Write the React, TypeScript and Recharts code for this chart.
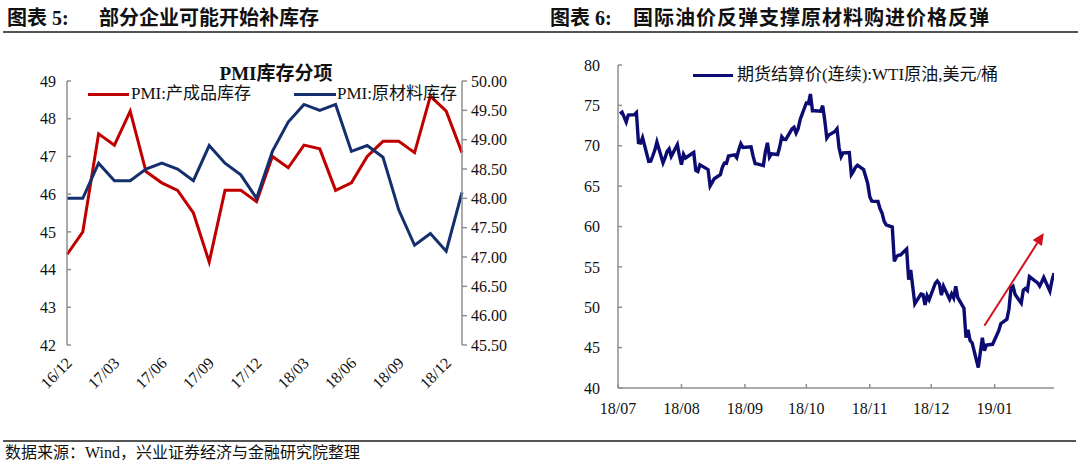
import React from "react";
import { LineChart, Line, XAxis, YAxis, ReferenceLine } from "recharts";

// ---------- Chart 5: PMI inventory sub-indices ----------
const pmiMonths = [
  "16/12", "17/01", "17/02", "17/03", "17/04", "17/05", "17/06", "17/07", "17/08",
  "17/09", "17/10", "17/11", "17/12", "18/01", "18/02", "18/03", "18/04", "18/05",
  "18/06", "18/07", "18/08", "18/09", "18/10", "18/11", "18/12", "19/01",
];
const finishedGoodsInv = [
  44.4, 45.0, 47.6, 47.3, 48.2, 46.6, 46.3, 46.1, 45.5, 44.2, 46.1, 46.1, 45.8,
  47.0, 46.7, 47.3, 47.2, 46.1, 46.3, 47.0, 47.4, 47.4, 47.1, 48.6, 48.2, 47.1,
];
const rawMaterialInv = [
  48.0, 48.0, 48.6, 48.3, 48.3, 48.5, 48.6, 48.5, 48.3, 48.9, 48.6, 48.4, 48.0,
  48.8, 49.3, 49.6, 49.5, 49.6, 48.8, 48.9, 48.7, 47.8, 47.2, 47.4, 47.1, 48.1,
];
const pmiLeftTicks = [42, 43, 44, 45, 46, 47, 48, 49];
const pmiRightTicks = [45.5, 46, 46.5, 47, 47.5, 48, 48.5, 49, 49.5, 50];

// ---------- Chart 6: WTI crude futures settlement ----------
const wtiDates = [
  "2018-07-02", "2018-07-03", "2018-07-05", "2018-07-06", "2018-07-09", "2018-07-10", "2018-07-11",
  "2018-07-12", "2018-07-13", "2018-07-16", "2018-07-17", "2018-07-18", "2018-07-19", "2018-07-20",
  "2018-07-23", "2018-07-24", "2018-07-25", "2018-07-26", "2018-07-27", "2018-07-30", "2018-07-31",
  "2018-08-01", "2018-08-02", "2018-08-03", "2018-08-06", "2018-08-07", "2018-08-08", "2018-08-09",
  "2018-08-10", "2018-08-13", "2018-08-14", "2018-08-15", "2018-08-16", "2018-08-17", "2018-08-20",
  "2018-08-21", "2018-08-22", "2018-08-23", "2018-08-24", "2018-08-27", "2018-08-28", "2018-08-29",
  "2018-08-30", "2018-08-31",
  "2018-09-04", "2018-09-05", "2018-09-06", "2018-09-07", "2018-09-10", "2018-09-11", "2018-09-12",
  "2018-09-13", "2018-09-14", "2018-09-17", "2018-09-18", "2018-09-19", "2018-09-20", "2018-09-21",
  "2018-09-24", "2018-09-25", "2018-09-26", "2018-09-27", "2018-09-28",
  "2018-10-01", "2018-10-02", "2018-10-03", "2018-10-04", "2018-10-05", "2018-10-08", "2018-10-09",
  "2018-10-10", "2018-10-11", "2018-10-12", "2018-10-15", "2018-10-16", "2018-10-17", "2018-10-18",
  "2018-10-19", "2018-10-22", "2018-10-23", "2018-10-24", "2018-10-25", "2018-10-26", "2018-10-29",
  "2018-10-30", "2018-10-31",
  "2018-11-01", "2018-11-02", "2018-11-05", "2018-11-06", "2018-11-07", "2018-11-08", "2018-11-09",
  "2018-11-12", "2018-11-13", "2018-11-14", "2018-11-15", "2018-11-16", "2018-11-19", "2018-11-20",
  "2018-11-21", "2018-11-23", "2018-11-26", "2018-11-27", "2018-11-28", "2018-11-29", "2018-11-30",
  "2018-12-03", "2018-12-04", "2018-12-05", "2018-12-06", "2018-12-07", "2018-12-10", "2018-12-11",
  "2018-12-12", "2018-12-13", "2018-12-14", "2018-12-17", "2018-12-18", "2018-12-19", "2018-12-20",
  "2018-12-21", "2018-12-24", "2018-12-26", "2018-12-27", "2018-12-28", "2018-12-31",
  "2019-01-02", "2019-01-03", "2019-01-04", "2019-01-07", "2019-01-08", "2019-01-09", "2019-01-10",
  "2019-01-11", "2019-01-14", "2019-01-15", "2019-01-16", "2019-01-17", "2019-01-18", "2019-01-22",
  "2019-01-23", "2019-01-24", "2019-01-25", "2019-01-28", "2019-01-29", "2019-01-30",
];
const wtiPrices = [
  73.94, 74.14, 72.94, 73.8, 73.85, 74.11, 70.38,
  70.33, 71.01, 68.06, 68.08, 68.76, 69.46, 70.46,
  67.89, 68.52, 69.3, 69.61, 68.69, 70.13, 68.76,
  67.66, 68.96, 68.49, 69.01, 69.17, 66.94, 66.81,
  67.63, 67.2, 67.04, 65.01, 65.46, 65.91, 66.43,
  67.35, 67.86, 67.83, 68.72, 68.87, 68.53, 69.51,
  70.25, 69.8,
  69.87, 68.72, 67.77, 67.75, 67.54, 69.25, 70.37,
  68.59, 68.99, 68.91, 69.85, 71.12, 70.8, 70.78,
  72.08, 72.28, 71.57, 72.12, 73.25,
  75.3, 75.23, 76.41, 74.33, 74.34, 74.29, 74.96,
  73.17, 70.97, 71.34, 71.78, 72.1, 69.75, 68.65,
  69.12, 69.17, 66.43, 66.82, 67.33, 67.59, 67.04,
  66.18, 65.31,
  63.69, 63.14, 63.1, 62.21, 61.67, 60.67, 60.19,
  59.93, 55.69, 56.25, 56.46, 56.46, 57.2, 53.43,
  54.63, 50.42, 51.63, 51.56, 50.29, 51.45, 50.93,
  52.95, 53.25, 52.89, 51.49, 52.61, 51.0, 51.65,
  51.15, 52.58, 51.2, 49.88, 46.24, 47.2, 45.88,
  45.59, 42.53, 46.22, 44.61, 45.33, 45.41,
  46.54, 47.09, 47.96, 48.52, 49.78, 52.36, 52.59,
  51.59, 50.51, 52.11, 52.31, 52.07, 53.8, 53.01,
  52.62, 53.13, 53.69, 51.99, 53.31, 54.23,
];
const wtiAxisStart = "2018-07-01";
const wtiMonthTicks = ["2018-07-01", "2018-08-01", "2018-09-01", "2018-10-01", "2018-11-01", "2018-12-01", "2019-01-01"];
const wtiPriceTicks = [40, 45, 50, 55, 60, 65, 70, 75, 80];
const trendArrowDates = ["2018-12-27", "2019-01-25"];
const trendArrowPrices = [47.7, 59.2];

// ---------- helpers ----------
const toTs = (d: string) => Date.parse(d + "T00:00:00Z");
const fmtMonth = (ts: number) => {
  const d = new Date(ts);
  const yy = String(d.getUTCFullYear() % 100).padStart(2, "0");
  const mm = String(d.getUTCMonth() + 1).padStart(2, "0");
  return `${yy}/${mm}`;
};

const pmiData = pmiMonths.map((m, i) => ({ m, fin: finishedGoodsInv[i], raw: rawMaterialInv[i] }));
const wtiData = wtiDates.map((d, i) => ({ t: toTs(d), v: wtiPrices[i] }));

const SERIF = '"Liberation Serif", "Times New Roman", "Noto Sans CJK SC", serif';
const AXIS = "#8f8f8f";
const RED = "#C00000";
const BLUE = "#142F6E";
const NAVY = "#0B0B72";

const RotTick = (props: any) => {
  const { x, y, payload } = props;
  const ax = x + 6;
  const ay = y + 19;
  return (
    <text
      x={ax}
      y={ay}
      transform={`rotate(-45 ${ax} ${ay})`}
      textAnchor="end"
      fontFamily={SERIF}
      fontSize={16}
      fill="#111"
    >
      {payload.value}
    </text>
  );
};

const ArrowShape = (props: any) => {
  const { x1, y1, x2, y2 } = props;
  if ([x1, y1, x2, y2].some((v) => typeof v !== "number" || isNaN(v))) return <g />;
  const ang = Math.atan2(y2 - y1, x2 - x1);
  const len = 12;
  const half = 5.5;
  const bx = x2 - len * Math.cos(ang);
  const by = y2 - len * Math.sin(ang);
  const px = -Math.sin(ang);
  const py = Math.cos(ang);
  const pts = `${x2},${y2} ${bx + half * px},${by + half * py} ${bx - half * px},${by - half * py}`;
  return (
    <g>
      <line x1={x1} y1={y1} x2={bx} y2={by} stroke="#D0101C" strokeWidth={2} />
      <polygon points={pts} fill="#D0101C" />
    </g>
  );
};

const headerText: React.CSSProperties = {
  position: "absolute",
  fontFamily: SERIF,
  fontWeight: 700,
  fontSize: 20,
  color: "#111",
  lineHeight: "22px",
  whiteSpace: "nowrap",
};

const PmiChart = () => (
  <div style={{ position: "absolute", left: 0, top: 0, width: 540, height: 440 }}>
    <LineChart width={540} height={440} data={pmiData} margin={{ top: 81, right: 0, bottom: 15, left: 0 }}>
      <XAxis
        xAxisId="top"
        dataKey="m"
        orientation="top"
        height={0}
        interval={2}
        axisLine={{ stroke: AXIS, strokeWidth: 1.5 }}
        tickLine={{ stroke: AXIS, strokeWidth: 1.5 }}
        tickSize={-4}
        tick={() => null}
      />
      <XAxis
        xAxisId="bottom"
        dataKey="m"
        orientation="bottom"
        height={80}
        interval={2}
        axisLine={false}
        tickLine={false}
        tickSize={0}
        tickMargin={0}
        tick={<RotTick />}
      />
      <YAxis
        yAxisId="left"
        orientation="left"
        width={67}
        domain={[42, 49]}
        ticks={pmiLeftTicks}
        allowDataOverflow
        axisLine={{ stroke: AXIS, strokeWidth: 1.5 }}
        tickLine={{ stroke: AXIS, strokeWidth: 1.5 }}
        tickSize={-4}
        tickMargin={15}
        tick={{ fontFamily: SERIF, fontSize: 16, fill: "#111" }}
      />
      <YAxis
        yAxisId="right"
        orientation="right"
        width={78}
        domain={[45.5, 50]}
        ticks={pmiRightTicks}
        allowDataOverflow
        tickFormatter={(v: number) => v.toFixed(2)}
        axisLine={{ stroke: AXIS, strokeWidth: 1.5 }}
        tickLine={{ stroke: AXIS, strokeWidth: 1.5 }}
        tickSize={5}
        tickMargin={4}
        tick={{ fontFamily: SERIF, fontSize: 16, fill: "#111" }}
      />
      <Line
        xAxisId="bottom"
        yAxisId="left"
        dataKey="fin"
        stroke={RED}
        strokeWidth={3}
        dot={false}
        isAnimationActive={false}
      />
      <Line
        xAxisId="bottom"
        yAxisId="right"
        dataKey="raw"
        stroke={BLUE}
        strokeWidth={3}
        dot={false}
        isAnimationActive={false}
      />
    </LineChart>
    <div
      style={{
        position: "absolute",
        left: 176,
        width: 200,
        top: 63,
        textAlign: "center",
        fontFamily: SERIF,
        fontWeight: 700,
        fontSize: 19,
        lineHeight: "22px",
        color: "#111",
        whiteSpace: "nowrap",
      }}
    >
      PMI库存分项
    </div>
    <div style={{ position: "absolute", left: 88, top: 93, width: 41, height: 3, background: RED }} />
    <div
      style={{ position: "absolute", left: 131, top: 84, fontFamily: SERIF, fontSize: 17, lineHeight: "20px", color: "#111", whiteSpace: "nowrap" }}
    >
      PMI:产成品库存
    </div>
    <div style={{ position: "absolute", left: 294, top: 93, width: 42, height: 3, background: BLUE }} />
    <div
      style={{ position: "absolute", left: 337, top: 84, fontFamily: SERIF, fontSize: 17, lineHeight: "20px", color: "#111", whiteSpace: "nowrap" }}
    >
      PMI:原材料库存
    </div>
  </div>
);

const WtiChart = () => {
  const domain = [toTs(wtiAxisStart), toTs(wtiDates[wtiDates.length - 1])];
  return (
    <div style={{ position: "absolute", left: 540, top: 0, width: 540, height: 440 }}>
      <LineChart width={540} height={440} data={wtiData} margin={{ top: 65, right: 26, bottom: 22, left: 0 }}>
        <XAxis
          dataKey="t"
          type="number"
          scale="linear"
          domain={domain}
          allowDataOverflow
          ticks={wtiMonthTicks.map(toTs)}
          tickFormatter={fmtMonth}
          height={30}
          axisLine={{ stroke: AXIS, strokeWidth: 1.5 }}
          tickLine={{ stroke: AXIS, strokeWidth: 1.5 }}
          tickSize={-4}
          tickMargin={19}
          tick={{ fontFamily: SERIF, fontSize: 16, fill: "#111" }}
        />
        <YAxis
          width={78}
          domain={[40, 80]}
          ticks={wtiPriceTicks}
          allowDataOverflow
          axisLine={{ stroke: AXIS, strokeWidth: 1.5 }}
          tickLine={{ stroke: AXIS, strokeWidth: 1.5 }}
          tickSize={-4}
          tickMargin={22}
          tick={{ fontFamily: SERIF, fontSize: 16, fill: "#111" }}
        />
        <Line
          dataKey="v"
          stroke={NAVY}
          strokeWidth={3.4}
          dot={false}
          isAnimationActive={false}
        />
        <ReferenceLine
          segment={[
            { x: toTs(trendArrowDates[0]), y: trendArrowPrices[0] },
            { x: toTs(trendArrowDates[1]), y: trendArrowPrices[1] },
          ]}
          ifOverflow="visible"
          stroke="#D0101C"
          shape={ArrowShape}
        />
      </LineChart>
      <div style={{ position: "absolute", left: 153, top: 74, width: 40, height: 3, background: NAVY }} />
      <div
        style={{ position: "absolute", left: 197, top: 65, fontFamily: SERIF, fontSize: 17, lineHeight: "20px", color: "#111", whiteSpace: "nowrap" }}
      >
        期货结算价(连续):WTI原油,美元/桶
      </div>
    </div>
  );
};

export default function App() {
  return (
    <div
      style={{
        position: "absolute",
        left: 0,
        top: 0,
        width: 1080,
        height: 464,
        background: "#fff",
        overflow: "hidden",
      }}
    >
      <div style={{ ...headerText, left: 7, top: 7 }}>图表 5:</div>
      <div style={{ ...headerText, left: 99, top: 7 }}>部分企业可能开始补库存</div>
      <div style={{ ...headerText, left: 550, top: 7 }}>图表 6:</div>
      <div style={{ ...headerText, left: 633, top: 7, letterSpacing: 1 }}>国际油价反弹支撑原材料购进价格反弹</div>
      <div style={{ position: "absolute", left: 3, top: 31, width: 1075, height: 1.5, background: "#555" }} />

      <PmiChart />
      <WtiChart />

      <div style={{ position: "absolute", left: 3, top: 440, width: 1073, height: 1.5, background: "#555" }} />
      <div
        style={{
          position: "absolute",
          left: 5,
          top: 444,
          fontFamily: SERIF,
          fontSize: 16,
          lineHeight: "18px",
          color: "#111",
          whiteSpace: "nowrap",
        }}
      >
        数据来源：Wind，兴业证券经济与金融研究院整理
      </div>
    </div>
  );
}
